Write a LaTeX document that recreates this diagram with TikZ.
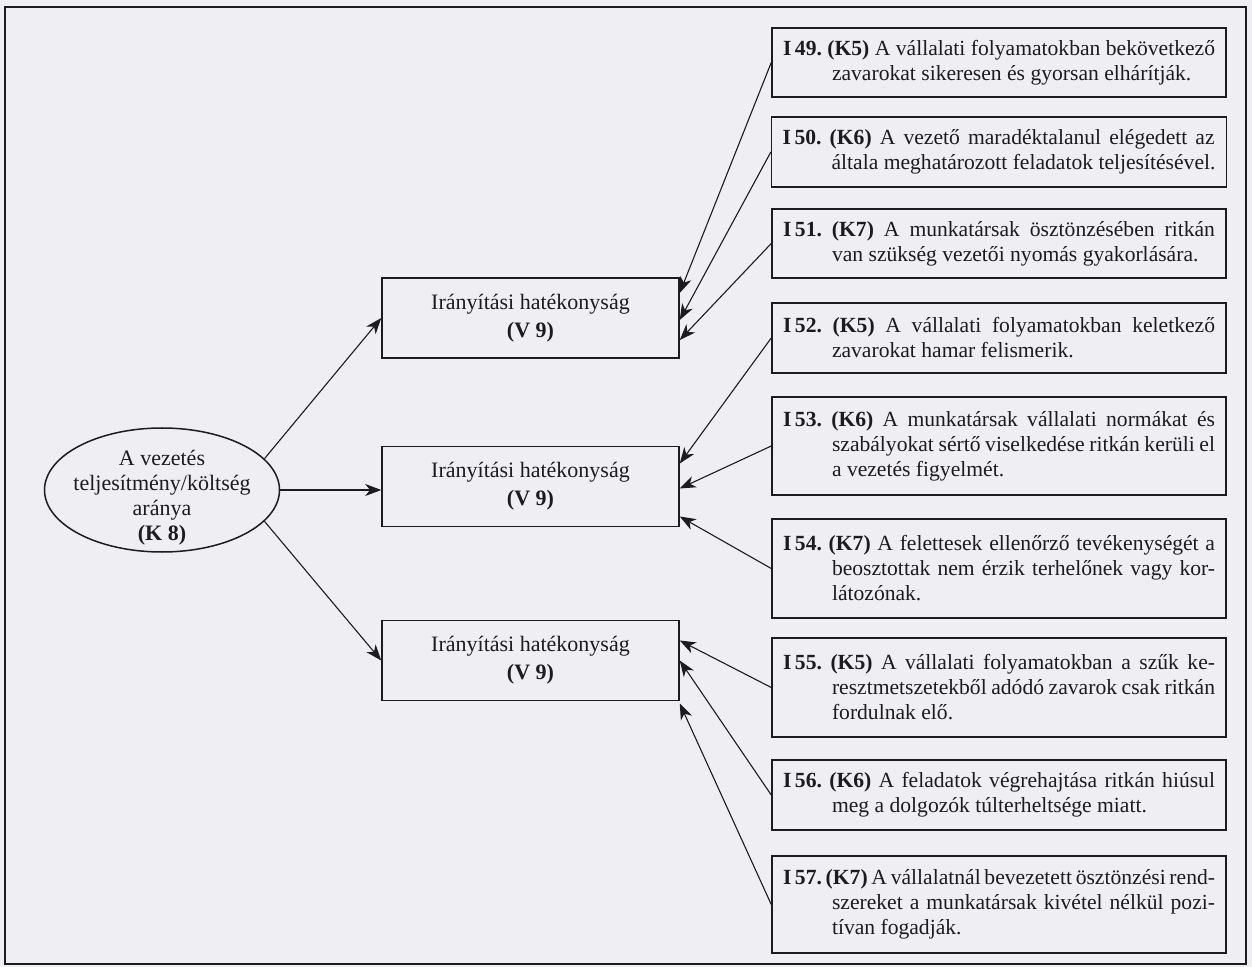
\documentclass[tikz,border=0pt]{standalone}
\usepackage{fontspec}
\setmainfont{Liberation Serif}
\usetikzlibrary{arrows.meta,shapes.geometric,calc}

\definecolor{paper}{RGB}{238,238,243}
\definecolor{ink}{RGB}{28,28,32}

% fonts for the item boxes and for the ellipse / middle boxes
\newcommand\itemfont{\fontsize{10.8}{12.5}\selectfont\frenchspacing
  \spaceskip=.25em plus .5em minus .17em}
\newcommand\midfont{\fontsize{11}{12.5}\selectfont}

% justified lines of an item: first line full width, the rest hung under the text
\newcommand\ItemFirst[1]{\hbox to 216pt{#1}}
\newcommand\ItemMid[1]{\hbox to 216pt{\hskip24.5pt #1}}
\newcommand\ItemLast[1]{\hbox{\hskip24.5pt #1}}

\begin{document}
\begin{tikzpicture}[x=0.5pt,y=-0.5pt,
  item/.style={draw=ink,line width=0.75pt,minimum width=227pt,inner xsep=5.5pt,
    inner ysep=0pt,font=\itemfont,text=ink},
  mid/.style={draw=ink,line width=0.75pt,minimum width=148.5pt,minimum height=40pt,
    inner sep=0pt,align=center,font=\midfont,text=ink},
  conn/.style={draw=ink,line width=0.55pt,-{Stealth[length=8pt,width=6pt,inset=2.4pt]}}]

\useasboundingbox (0,0) rectangle (1252,967);
\fill[paper] (0,0) rectangle (1252,967);
\draw[ink,line width=1pt] (5,7) rectangle (1246,964);

% source construct: the ellipse and its label
\node[ellipse,draw=ink,line width=0.75pt,minimum width=117.5pt,minimum height=62pt,
  inner sep=0pt] (ell) at (162,490) {};
\node[align=center,font=\midfont,text=ink,inner sep=0pt] (elltext) at (162,498)
  {A vezetés\\teljesítmény/költség\\aránya\\\textbf{(K 8)}};

% middle boxes
\node[mid] (b1) at (530.5,318)   {Irányítási hatékonyság\\[1.5pt]\textbf{(V 9)}};
\node[mid] (b2) at (530.5,486.5) {Irányítási hatékonyság\\[1.5pt]\textbf{(V 9)}};
\node[mid] (b3) at (530.5,660.5) {Irányítási hatékonyság\\[1.5pt]\textbf{(V 9)}};

% indicator boxes
\node[item,minimum height=34.5pt] (i49) at (999,62.5) {\vbox{%
  \ItemFirst{\textbf{I\,49.} \textbf{(K5)} A vállalati folyamatokban bekövetkező}
  \ItemLast{zavarokat sikeresen és gyorsan elhárítják.}}};
\node[item,minimum height=35pt] (i50) at (999,152) {\vbox{%
  \ItemFirst{\textbf{I\,50.} \textbf{(K6)} A vezető maradéktalanul elégedett az}
  \ItemLast{általa meghatározott feladatok teljesítésével.}}};
\node[item,minimum height=34.5pt] (i51) at (999,243.5) {\vbox{%
  \ItemFirst{\textbf{I\,51.} \textbf{(K7)} A munkatársak ösztönzésében ritkán}
  \ItemLast{van szükség vezetői nyomás gyakorlására.}}};
\node[item,minimum height=35pt] (i52) at (999,338) {\vbox{%
  \ItemFirst{\textbf{I\,52.} \textbf{(K5)} A vállalati folyamatokban keletkező}
  \ItemLast{zavarokat hamar felismerik.}}};
\node[item,minimum height=49pt] (i53) at (999,446) {\vbox{%
  \ItemFirst{\textbf{I\,53.} \textbf{(K6)} A munkatársak vállalati normákat és}
  \ItemMid{szabályokat sértő viselkedése ritkán kerüli el}
  \ItemLast{a vezetés figyelmét.}}};
\node[item,minimum height=49.5pt] (i54) at (999,568.5) {\vbox{%
  \ItemFirst{\textbf{I\,54.} \textbf{(K7)} A felettesek ellenőrző tevékenységét a}
  \ItemMid{beosztottak nem érzik terhelőnek vagy kor-}
  \ItemLast{látozónak.}}};
\node[item,minimum height=49.5pt] (i55) at (999,687.5) {\vbox{%
  \ItemFirst{\textbf{I\,55.} \textbf{(K5)} A vállalati folyamatokban a szűk ke-}
  \ItemMid{resztmetszetekből adódó zavarok csak ritkán}
  \ItemLast{fordulnak elő.}}};
\node[item,minimum height=35pt] (i56) at (999,795) {\vbox{%
  \ItemFirst{\textbf{I\,56.} \textbf{(K6)} A feladatok végrehajtása ritkán hiúsul}
  \ItemLast{meg a dolgozók túlterheltsége miatt.}}};
\node[item,minimum height=48.5pt] (i57) at (999,904.5) {\vbox{%
  \ItemFirst{\textbf{I\,57.} \textbf{(K7)} A vállalatnál bevezetett ösztönzési rend-}
  \ItemMid{szereket a munkatársak kivétel nélkül pozi-}
  \ItemLast{tívan fogadják.}}};

% construct to the three boxes
\draw[conn] (ell.17) -- (b1.west);
\draw[conn] (ell.east) -- (ell.east -| b2.west);
\draw[conn] (ell.-17) -- (b3.west);

% indicators into the boxes
\draw[conn] (i49.west) -- ($(b1.east)+(0,-25)$);
\draw[conn] (i50.west) -- ($(b1.east)+(0,2)$);
\draw[conn] (i51.west) -- ($(b1.east)+(0,22)$);
\draw[conn] (i52.west) -- ($(b2.east)+(0,-23)$);
\draw[conn] (i53.west) -- ($(b2.east)+(0,2)$);
\draw[conn] (i54.west) -- ($(b2.east)+(0,30)$);
\draw[conn] (i55.west) -- ($(b3.east)+(0,-20)$);
\draw[conn] (i56.west) -- ($(b3.east)+(0,0)$);
\draw[conn] (i57.west) -- ($(b3.east)+(0,43)$);
\end{tikzpicture}
\end{document}
